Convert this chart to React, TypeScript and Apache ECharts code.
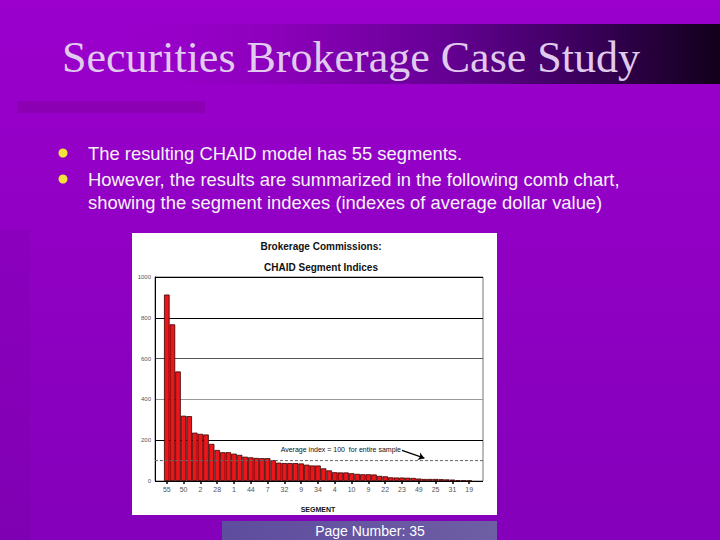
import React, { useEffect, useRef } from "react";
import * as echarts from "echarts";

// Segment IDs (only every third one is legible in the source)
const categories = [
  "55", "", "", "50", "", "", "2", "", "", "28", "", "",
  "1", "", "", "44", "", "", "7", "", "", "32", "", "",
  "9", "", "", "34", "", "", "4", "", "", "10", "", "",
  "9", "", "", "22", "", "", "23", "", "", "49", "", "",
  "25", "", "", "31", "", "", "19",
];

// Segment index values (average dollar value index, 100 = entire sample)
const indexValues = [
  914, 768, 537, 320, 318, 237, 231, 228, 182, 152,
  141, 141, 134, 128, 119, 116, 113, 112, 112, 102,
  90, 88, 88, 88, 86, 80, 76, 76, 62, 52,
  43, 42, 42, 38, 35, 33, 33, 32, 25, 23,
  18, 17, 17, 16, 15, 12, 10, 10, 10, 9,
  8, 7, 4, 3, 2,
];

const averageIndex = 100;
const yMin = 0;
const yMax = 1000;
const yStep = 200;

const slideTitle = "Securities Brokerage Case Study";
const bullets = [
  ["The resulting CHAID model has 55 segments."],
  [
    "However, the results are summarized in the following comb chart,",
    "showing the segment indexes (indexes of average dollar value)",
  ],
];
const chartTitle1 = "Brokerage Commissions:";
const chartTitle2 = "CHAID Segment Indices";
const avgLabel = "Average index = 100  for entire sample";
const pageNumber = "Page Number: 35";

export default function App() {
  const ref = useRef<HTMLDivElement>(null);

  useEffect(() => {
    document.body.style.margin = "0";
    if (!ref.current) return;
    const chart = echarts.init(ref.current, undefined, { renderer: "svg" });

    const bulletTexts: any[] = [];
    let lineY = 153;
    bullets.forEach((lines) => {
      bulletTexts.push({
        type: "circle",
        shape: { cx: 63, cy: lineY, r: 4.5 },
        style: { fill: "#f2e43a" },
        z: -5,
      });
      lines.forEach((ln) => {
        bulletTexts.push({
          type: "text",
          x: 88,
          y: lineY,
          z: -5,
          style: {
            text: ln,
            fontFamily: "Liberation Sans, Arial, sans-serif",
            fontSize: 18.4,
            fill: "#f6f2f8",
            textVerticalAlign: "middle",
            shadowColor: "rgba(40,0,60,0.6)",
            shadowOffsetX: 1,
            shadowOffsetY: 1,
            shadowBlur: 1,
          },
        });
        lineY += 23;
      });
      lineY += 3;
    });

    chart.setOption({
      animation: false,
      graphic: [
        {
          type: "rect",
          z: -20,
          shape: { x: 0, y: 0, width: 720, height: 540 },
          style: {
            fill: new echarts.graphic.LinearGradient(0, 0, 0, 1, [
              { offset: 0, color: "#9b00cc" },
              { offset: 1, color: "#8400ba" },
            ]),
          },
        },
        {
          type: "rect",
          z: -19,
          shape: { x: 0, y: 230, width: 30, height: 310 },
          style: { fill: "rgba(0,0,0,0.035)" },
        },
        {
          type: "rect",
          z: -18,
          shape: { x: 0, y: 24, width: 720, height: 60 },
          style: {
            fill: new echarts.graphic.LinearGradient(0, 0, 1, 0, [
              { offset: 0, color: "rgba(150,0,200,0)" },
              { offset: 0.16, color: "rgba(150,0,200,0)" },
              { offset: 0.4, color: "#8a00b8" },
              { offset: 0.62, color: "#650094" },
              { offset: 0.82, color: "#380058" },
              { offset: 1, color: "#12001a" },
            ]),
          },
        },
        {
          type: "text",
          z: -5,
          x: 62,
          y: 57,
          style: {
            text: slideTitle,
            fontFamily: "Liberation Serif, Times New Roman, serif",
            fontSize: 44,
            fill: "#e0cbef",
            textVerticalAlign: "middle",
            shadowColor: "rgba(30,0,40,0.8)",
            shadowOffsetX: 2,
            shadowOffsetY: 2,
            shadowBlur: 2,
          },
        },
        {
          type: "rect",
          z: -15,
          shape: { x: 18, y: 101, width: 187, height: 12 },
          style: { fill: "#8b00b2" },
        },
        ...bulletTexts,
        {
          type: "rect",
          z: -10,
          shape: { x: 132, y: 233, width: 365, height: 282 },
          style: { fill: "#ffffff" },
        },
        {
          type: "rect",
          z: -10,
          shape: { x: 222, y: 521, width: 275, height: 19 },
          style: {
            fill: new echarts.graphic.LinearGradient(0, 0, 1, 0, [
              { offset: 0, color: "#5e4c9e" },
              { offset: 1, color: "#6e5ea4" },
            ]),
          },
        },
        {
          type: "text",
          z: -5,
          x: 370,
          y: 531,
          style: {
            text: pageNumber,
            fontFamily: "Liberation Sans, Arial, sans-serif",
            fontSize: 14,
            fill: "#ffffff",
            textAlign: "center",
            textVerticalAlign: "middle",
          },
        },
      ],
      title: [
        {
          text: chartTitle1,
          left: 316,
          top: 236,
          textAlign: "center",
          textStyle: {
            fontFamily: "Liberation Sans, Arial, sans-serif",
            fontSize: 10,
            fontWeight: "bold",
            color: "#111",
          },
        },
        {
          text: chartTitle2,
          left: 316,
          top: 257,
          textAlign: "center",
          textStyle: {
            fontFamily: "Liberation Sans, Arial, sans-serif",
            fontSize: 10,
            fontWeight: "bold",
            color: "#111",
          },
        },
      ],
      grid: [
        {
          left: 155,
          right: 237,
          top: 277,
          bottom: 59,
          show: true,
          borderColor: "#777",
          borderWidth: 1,
          backgroundColor: "transparent",
        },
        { left: 164, right: 248, top: 277, bottom: 59 },
      ],
      xAxis: [
        {
          type: "value",
          gridIndex: 0,
          min: 0,
          max: 1,
          show: false,
        },
        {
          type: "category",
          gridIndex: 1,
          data: categories,
          boundaryGap: true,
          axisLine: { show: false },
          axisTick: {
            show: true,
            interval: 2,
            alignWithLabel: true,
            length: 3,
            lineStyle: { color: "#000", width: 1.5 },
          },
          axisLabel: {
            interval: 2,
            fontSize: 7,
            color: "#555",
            margin: 5,
            fontFamily: "Liberation Sans, Arial, sans-serif",
          },
          name: "SEGMENT",
          nameLocation: "middle",
          nameGap: 25,
          nameTextStyle: {
            fontSize: 7,
            fontWeight: "bold",
            color: "#111",
            fontFamily: "Liberation Sans, Arial, sans-serif",
          },
        },
      ],
      yAxis: [
        {
          type: "value",
          gridIndex: 0,
          min: yMin,
          max: yMax,
          interval: yStep,
          axisLine: { show: true, lineStyle: { color: "#000", width: 1 } },
          axisTick: { show: false },
          axisLabel: {
            fontSize: 6,
            color: "#555",
            margin: 4,
            formatter: (v: number) => String(v),
            fontFamily: "Liberation Sans, Arial, sans-serif",
          },
          splitLine: {
            show: true,
            lineStyle: {
              color: ["#000", "#000", "#999", "#555", "#000", "#000"],
              width: 1,
            },
          },
        },
        {
          type: "value",
          gridIndex: 1,
          min: yMin,
          max: yMax,
          interval: yStep,
          show: false,
          splitLine: { show: false },
        },
      ],
      series: [
        {
          type: "line",
          xAxisIndex: 0,
          yAxisIndex: 0,
          data: [
            [0, averageIndex],
            [1, averageIndex],
          ],
          symbol: "none",
          silent: true,
          lineStyle: { color: "#666", width: 1, type: [3, 2] },
          z: 3,
        },
        {
          type: "bar",
          xAxisIndex: 1,
          yAxisIndex: 1,
          data: indexValues,
          barCategoryGap: "0%",
          itemStyle: {
            color: "#ea161a",
            borderColor: "#3a0000",
            borderWidth: 0.8,
          },
          z: 2,
          markLine: {
            silent: true,
            symbol: ["none", "arrow"],
            symbolSize: 6,
            label: { show: false },
            lineStyle: { color: "#000", width: 1.2, type: "solid" },
            data: [[{ coord: [42, 150] }, { coord: [46, 112] }]],
          },
          markPoint: {
            silent: true,
            symbol: "circle",
            symbolSize: 0,
            data: [{ coord: [42, 152] }],
            label: {
              show: true,
              position: "left",
              distance: 1,
              formatter: avgLabel,
              fontSize: 7,
              color: "#111",
              fontFamily: "Liberation Sans, Arial, sans-serif",
            },
          },
        },
      ],
    });

    return () => chart.dispose();
  }, []);

  return <div ref={ref} style={{ width: 720, height: 540 }} />;
}
